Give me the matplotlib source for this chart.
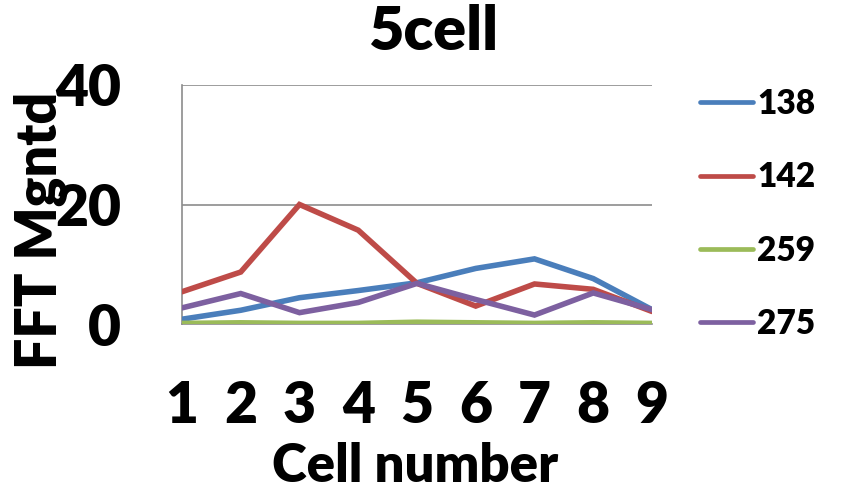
import matplotlib
matplotlib.use("Agg")
import matplotlib.pyplot as plt

plt.rcParams['font.family'] = ['Lato', 'DejaVu Sans']
plt.rcParams['font.weight'] = 'heavy'

cells = [1, 2, 3, 4, 5, 6, 7, 8, 9]
series_names = ["138", "142", "259", "275"]
s138 = [0.8, 2.3, 4.4, 5.6, 6.9, 9.3, 10.9, 7.6, 2.4]
s142 = [5.4, 8.7, 20.0, 15.7, 6.8, 3.0, 6.7, 5.8, 2.1]
s259 = [0.1, 0.2, 0.1, 0.1, 0.3, 0.2, 0.1, 0.2, 0.1]
s275 = [2.7, 5.1, 1.9, 3.6, 6.8, 4.1, 1.5, 5.2, 2.4]
y_ticks = [0, 20, 40]

colors = ["#4A7EBB", "#BE4B48", "#9BBB59", "#7D60A0"]
W_TXT = 'heavy'

fig = plt.figure(figsize=(8.67, 4.95), dpi=100)
W, H = 867, 495
ax = fig.add_axes([182 / W, 1 - 324 / H, 470 / W, 239 / H])

for name, vals, c in zip(series_names, [s138, s142, s259, s275], colors):
    ax.plot(cells, vals, color=c, lw=4.0, solid_capstyle='round',
            solid_joinstyle='miter', label=name, zorder=3)

ax.set_xlim(1, 9)
ax.set_ylim(0, 40)
ax.set_xticks(cells)
ax.set_yticks(y_ticks)
ax.grid(axis='y', color='#8C8C8C', lw=1.2)
ax.set_axisbelow(True)
for side in ['top', 'right']:
    ax.spines[side].set_visible(False)
ax.spines['left'].set_color('#8C8C8C')
ax.spines['bottom'].set_color('#8C8C8C')
ax.spines['left'].set_linewidth(1.2)
ax.spines['bottom'].set_linewidth(1.2)
ax.tick_params(axis='both', length=0, labelsize=41)
ax.tick_params(axis='y', pad=44)
ax.tick_params(axis='x', pad=40)
for lab in ax.get_xticklabels() + ax.get_yticklabels():
    lab.set_fontweight(W_TXT)

fig.text(433 / W, 1 - 32 / H, "5cell", ha='center', va='center',
         fontsize=44, fontweight=W_TXT)
fig.text(415 / W, 1 - 467 / H, "Cell number", ha='center', va='center',
         fontsize=38, fontweight=W_TXT)
fig.text(14 / W, 1 - 230 / H, "FFT Mgntd", rotation=90, ha='left',
         va='center', fontsize=40, fontweight=W_TXT)

leg = ax.legend(loc='upper left', bbox_to_anchor=(670 / W, 1 - 58 / H),
                bbox_transform=fig.transFigure, frameon=False,
                fontsize=24, handlelength=1.6, handletextpad=0.12,
                labelspacing=1.24)
for t in leg.get_texts():
    t.set_fontweight(W_TXT)
for l in leg.get_lines():
    l.set_linewidth(3.4)
    l.set_solid_capstyle('round')

fig.savefig("out.png", dpi=100)
